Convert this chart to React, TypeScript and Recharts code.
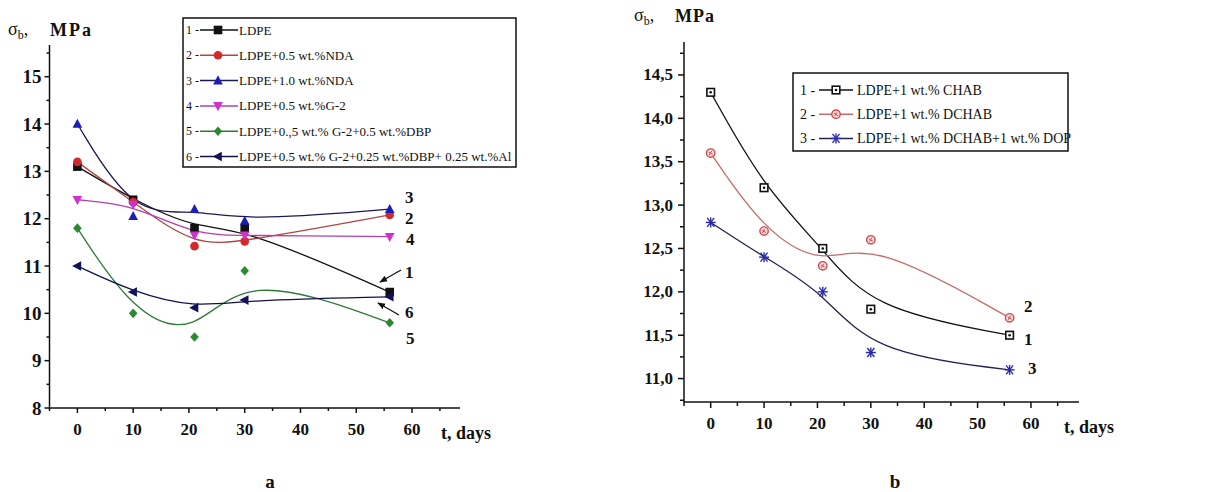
import React from 'react';
import { LineChart, Line, XAxis, YAxis } from 'recharts';

// storage time, days
const days = [0, 10, 21, 30, 56];

// panel a: tensile strength, MPa
const ldpe = [13.1, 12.4, 11.8, 11.8, 10.45];
const ldpeNda05 = [13.2, 12.35, 11.42, 11.52, 12.08];
const ldpeNda10 = [14.0, 12.05, 12.2, 11.95, 12.2];
const ldpeG2 = [12.4, 12.3, 11.65, 11.65, 11.62];
const ldpeG2Dbp = [11.8, 10.0, 9.5, 10.9, 9.8];
const ldpeG2DbpAl = [11.0, 10.45, 10.12, 10.28, 10.35];

// panel b: tensile strength, MPa
const chab = [14.3, 13.2, 12.5, 11.8, 11.5];
const dchab = [13.6, 12.7, 12.3, 12.6, 11.7];
const dchabDop = [12.8, 12.4, 12.0, 11.3, 11.1];

const legendA = [
  'LDPE',
  'LDPE+0.5 wt.%NDA',
  'LDPE+1.0 wt.%NDA',
  'LDPE+0.5 wt.%G-2',
  'LDPE+0.,5 wt.%  G-2+0.5 wt.%DBP',
  'LDPE+0.5 wt.%  G-2+0.25 wt.%DBP+ 0.25 wt.%Al',
];
const legendB = ['LDPE+1 wt.% CHAB', 'LDPE+1 wt.% DCHAB', 'LDPE+1 wt.% DCHAB+1 wt.% DOP'];

const xMajor = [0, 10, 20, 30, 40, 50, 60];
const xMinor = [-5, 5, 15, 25, 35, 45, 55, 65];
const yMajorA = [8, 9, 10, 11, 12, 13, 14, 15];
const yMinorA = [8.5, 9.5, 10.5, 11.5, 12.5, 13.5, 14.5, 15.5];
const yMajorB = [11, 11.5, 12, 12.5, 13, 13.5, 14, 14.5];
const yMinorB = [10.75, 11.25, 11.75, 12.25, 12.75, 13.25, 13.75, 14.25, 14.75];

const FONT = '"Liberation Serif", "Times New Roman", Times, serif';

const seriesA = [
  { key: 'a1', values: ldpe, color: '#111111', line: '#111111', shape: 'square' },
  { key: 'a2', values: ldpeNda05, color: '#d22a2a', line: '#b04545', shape: 'circle' },
  { key: 'a3', values: ldpeNda10, color: '#1c1cb8', line: '#1a1a55', shape: 'up' },
  { key: 'a4', values: ldpeG2, color: '#d030d0', line: '#b040b0', shape: 'down' },
  { key: 'a5', values: ldpeG2Dbp, color: '#2a8a30', line: '#2e7a35', shape: 'diamond' },
  { key: 'a6', values: ldpeG2DbpAl, color: '#12125a', line: '#12124a', shape: 'left' },
];
const seriesB = [
  { key: 'b1', values: chab, color: '#111111', line: '#111111', shape: 'openSquare' },
  { key: 'b2', values: dchab, color: '#d04a4a', line: '#c86a6a', shape: 'openCircle' },
  { key: 'b3', values: dchabDop, color: '#2a2aa8', line: '#22224e', shape: 'star' },
];

const rowsA = days.map((d, i) => {
  const r: any = { day: d };
  seriesA.forEach((s) => (r[s.key] = s.values[i]));
  return r;
});
const rowsB = days.map((d, i) => {
  const r: any = { day: d };
  seriesB.forEach((s) => (r[s.key] = s.values[i]));
  return r;
});

function Marker({ shape, cx, cy, color }: { shape: string; cx: number; cy: number; color: string }) {
  const s = 4.3;
  switch (shape) {
    case 'square':
      return <rect x={cx - s} y={cy - s} width={2 * s} height={2 * s} fill={color} />;
    case 'circle':
      return <circle cx={cx} cy={cy} r={s} fill={color} />;
    case 'up':
      return <polygon points={`${cx},${cy - s - 1} ${cx + s + 0.5},${cy + s - 0.5} ${cx - s - 0.5},${cy + s - 0.5}`} fill={color} />;
    case 'down':
      return <polygon points={`${cx},${cy + s + 1} ${cx + s + 0.5},${cy - s + 0.5} ${cx - s - 0.5},${cy - s + 0.5}`} fill={color} />;
    case 'diamond':
      return <polygon points={`${cx},${cy - s - 0.5} ${cx + s},${cy} ${cx},${cy + s + 0.5} ${cx - s},${cy}`} fill={color} />;
    case 'left':
      return <polygon points={`${cx - s - 1},${cy} ${cx + s - 0.5},${cy - s - 0.5} ${cx + s - 0.5},${cy + s + 0.5}`} fill={color} />;
    case 'openSquare':
      return (
        <g>
          <rect x={cx - 3.8} y={cy - 3.8} width={7.6} height={7.6} fill="#fff" stroke={color} strokeWidth={1.6} />
          <circle cx={cx} cy={cy} r={1.3} fill={color} />
        </g>
      );
    case 'openCircle':
      return (
        <g>
          <circle cx={cx} cy={cy} r={4.2} fill="#fbdde0" stroke={color} strokeWidth={1.4} />
          <path d={`M${cx - 2},${cy - 1} L${cx + 2},${cy + 1.5} M${cx - 1.5},${cy + 2} L${cx + 1},${cy - 2}`} stroke={color} strokeWidth={1} />
        </g>
      );
    default:
      return (
        <g stroke={color} strokeWidth={1.4}>
          <line x1={cx - 5} y1={cy} x2={cx + 5} y2={cy} />
          <line x1={cx - 3.5} y1={cy - 4.5} x2={cx + 3.5} y2={cy + 4.5} />
          <line x1={cx + 3.5} y1={cy - 4.5} x2={cx - 3.5} y2={cy + 4.5} />
          <line x1={cx} y1={cy - 5} x2={cx} y2={cy + 5} />
        </g>
      );
  }
}

const tickText = { fontFamily: FONT, fontSize: 17, fontWeight: 700, fill: '#111' };

function makeYTick(majors: number[], majorLen: number, minorLen: number, gap: number, size: number, fmt: (v: number) => string) {
  return (props: any) => {
    const { x, y, payload } = props;
    const major = majors.some((m) => Math.abs(m - payload.value) < 1e-6);
    return (
      <g>
        <line x1={x - (major ? majorLen : minorLen)} x2={x} y1={y} y2={y} stroke="#111" strokeWidth={1.5} />
        {major && (
          <text x={x - majorLen - gap} y={y} textAnchor="end" dominantBaseline="central" style={{ ...tickText, fontSize: size }}>
            {fmt(payload.value)}
          </text>
        )}
      </g>
    );
  };
}

function makeXTick(majorLen: number, minorLen: number, dy: number) {
  return (props: any) => {
    const { x, y, payload } = props;
    const major = xMajor.includes(payload.value);
    return (
      <g>
        <line x1={x} x2={x} y1={y} y2={y + (major ? majorLen : minorLen)} stroke="#111" strokeWidth={1.5} />
        {major && (
          <text x={x} y={y + dy} textAnchor="middle" dominantBaseline="central" style={tickText}>
            {payload.value}
          </text>
        )}
      </g>
    );
  };
}

const dotFor = (shape: string, color: string) => (p: any) => (
  <g key={`${shape}-${p.index}`}>
    <Marker shape={shape} cx={p.cx} cy={p.cy} color={color} />
  </g>
);

export default function App() {
  return (
    <div style={{ position: 'absolute', left: 0, top: 0, width: 1217, height: 492, background: '#fff', fontFamily: FONT }}>
      <div style={{ position: 'absolute', left: 0, top: 0 }}>
        <LineChart width={600} height={492} data={rowsA} margin={{ top: 45, right: 140, left: 8, bottom: 54 }}>
          <XAxis
            dataKey="day"
            type="number"
            domain={[-5, 68.6]}
            ticks={[...xMinor, ...xMajor].sort((a, b) => a - b)}
            interval={0}
            tick={makeXTick(5, 3, 21)}
            tickSize={0}
            tickMargin={0}
            height={30}
            axisLine={{ stroke: '#111', strokeWidth: 1.5 }}
            allowDataOverflow
          />
          <YAxis
            type="number"
            domain={[8, 15.67]}
            ticks={[...yMinorA, ...yMajorA].sort((a, b) => a - b)}
            interval={0}
            tick={makeYTick(yMajorA, 5, 3, 3, 19, (v) => String(v))}
            tickSize={0}
            tickMargin={0}
            width={41.5}
            axisLine={{ stroke: '#111', strokeWidth: 1.5 }}
            allowDataOverflow
          />
          {seriesA.map((s) => (
            <Line
              key={s.key}
              dataKey={s.key}
              type="basis"
              stroke={s.line}
              strokeWidth={1.3}
              dot={dotFor(s.shape, s.color)}
              activeDot={false}
              isAnimationActive={false}
            />
          ))}
        </LineChart>
      </div>
      <div style={{ position: 'absolute', left: 600, top: 0 }}>
        <LineChart width={617} height={492} data={rowsB} margin={{ top: 42, right: 138, left: 24, bottom: 60 }}>
          <XAxis
            dataKey="day"
            type="number"
            domain={[-5, 69]}
            ticks={[...xMinor, ...xMajor].sort((a, b) => a - b)}
            interval={0}
            tick={makeXTick(6, 4, 21)}
            tickSize={0}
            tickMargin={0}
            height={30}
            axisLine={{ stroke: '#111', strokeWidth: 1.5 }}
            allowDataOverflow
          />
          <YAxis
            type="number"
            domain={[10.73, 14.88]}
            ticks={[...yMinorB, ...yMajorB].sort((a, b) => a - b)}
            interval={0}
            tick={makeYTick(yMajorB, 6, 4, 5, 17, (v) => v.toFixed(1).replace('.', ','))}
            tickSize={0}
            tickMargin={0}
            width={60}
            axisLine={{ stroke: '#111', strokeWidth: 1.5 }}
            allowDataOverflow
          />
          {seriesB.map((s) => (
            <Line
              key={s.key}
              dataKey={s.key}
              type="basis"
              stroke={s.line}
              strokeWidth={1.3}
              dot={dotFor(s.shape, s.color)}
              activeDot={false}
              isAnimationActive={false}
            />
          ))}
        </LineChart>
      </div>

      <svg width={1217} height={492} style={{ position: 'absolute', left: 0, top: 0, pointerEvents: 'none', fontFamily: FONT }}>
        <defs>
          <marker id="arr" viewBox="0 0 10 10" refX="9" refY="5" markerWidth="6" markerHeight="6" orient="auto">
            <path d="M0,1 L10,5 L0,9 z" fill="#111" />
          </marker>
        </defs>

        {/* panel a titles */}
        <text x={8} y={35} fontSize={18} fill="#111">
          σ<tspan fontSize={12} dy={4}>b</tspan>
          <tspan dy={-4}>,</tspan>
        </text>
        <text x={50} y={36} fontSize={18} fontWeight={700} letterSpacing={2} fill="#111">MPa</text>
        <text x={441} y={439} fontSize={18} fontWeight={700} fill="#111">t, days</text>
        <text x={270} y={488} fontSize={19} fontWeight={700} textAnchor="middle" fill="#111">a</text>

        {/* panel a legend */}
        <rect x={183} y={18} width={333} height={149} fill="#fff" stroke="#111" strokeWidth={1.5} />
        {seriesA.map((s, i) => {
          const y = 30 + i * 25.3;
          return (
            <g key={s.key}>
              <text x={186} y={y} fontSize={12} dominantBaseline="central" fill="#111">{`${i + 1} -`}</text>
              <line x1={200} x2={238} y1={y} y2={y} stroke={s.line} strokeWidth={1.5} />
              <Marker shape={s.shape} cx={218} cy={y} color={s.color} />
              <text x={239} y={y} fontSize={13} dominantBaseline="central" fill="#111">{legendA[i]}</text>
            </g>
          );
        })}

        {/* panel a curve numbers */}
        <g fontSize={17} fontWeight={700} fill="#111">
          <text x={405} y={203}>3</text>
          <text x={405} y={224}>2</text>
          <text x={406} y={245}>4</text>
          <text x={405} y={278}>1</text>
          <text x={405} y={318}>6</text>
          <text x={406} y={344}>5</text>
        </g>
        <line x1={401} y1={270} x2={380} y2={282} stroke="#111" strokeWidth={1.3} markerEnd="url(#arr)" />
        <line x1={399} y1={315} x2={378} y2={303} stroke="#111" strokeWidth={1.3} markerEnd="url(#arr)" />

        {/* panel b titles */}
        <text x={634} y={21} fontSize={18} fill="#111">
          σ<tspan fontSize={12} dy={4}>b</tspan>
          <tspan dy={-4}>,</tspan>
        </text>
        <text x={675} y={22} fontSize={18} fontWeight={700} letterSpacing={1} fill="#111">MPa</text>
        <text x={1064} y={433} fontSize={18} fontWeight={700} fill="#111">t, days</text>
        <text x={895} y={488} fontSize={19} fontWeight={700} textAnchor="middle" fill="#111">b</text>

        {/* panel b legend */}
        <rect x={793} y={73} width={275} height={78} fill="#fff" stroke="#111" strokeWidth={1.5} />
        {seriesB.map((s, i) => {
          const y = 90 + i * 24.2;
          return (
            <g key={s.key}>
              <text x={800} y={y} fontSize={14} dominantBaseline="central" fill="#111">{`${i + 1} -`}</text>
              <line x1={819} x2={853} y1={y} y2={y} stroke={s.line} strokeWidth={1.5} />
              <Marker shape={s.shape} cx={836} cy={y} color={s.color} />
              <text x={857} y={y} fontSize={14} dominantBaseline="central" fill="#111">{legendB[i]}</text>
            </g>
          );
        })}

        {/* panel b curve numbers */}
        <g fontSize={17} fontWeight={700} fill="#111">
          <text x={1024} y={312}>2</text>
          <text x={1024} y={345}>1</text>
          <text x={1028} y={374}>3</text>
        </g>
      </svg>
    </div>
  );
}
